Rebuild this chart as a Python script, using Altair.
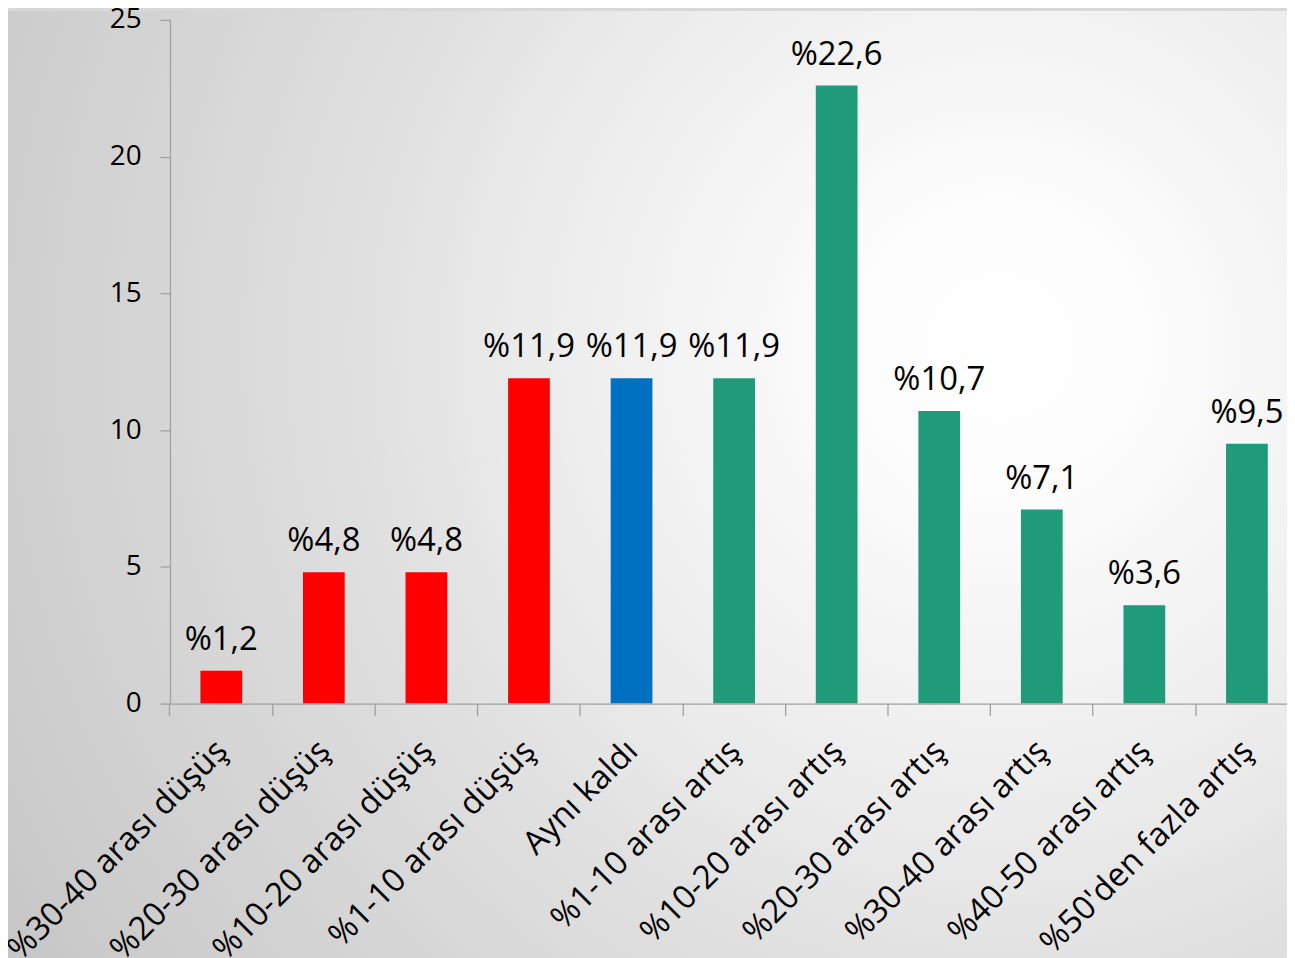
import altair as alt
import pandas as pd

categories = [
    "%30-40 arası düşüş",
    "%20-30 arası düşüş",
    "%10-20 arası düşüş",
    "%1-10 arası düşüş",
    "Aynı kaldı",
    "%1-10 arası artış",
    "%10-20 arası artış",
    "%20-30 arası artış",
    "%30-40 arası artış",
    "%40-50 arası artış",
    "%50'den fazla artış",
]
values = [1.2, 4.8, 4.8, 11.9, 11.9, 11.9, 22.6, 10.7, 7.1, 3.6, 9.5]
groups = ["düşüş", "düşüş", "düşüş", "düşüş", "aynı",
          "artış", "artış", "artış", "artış", "artış", "artış"]
labels = ["%1,2", "%4,8", "%4,8", "%11,9", "%11,9", "%11,9",
          "%22,6", "%10,7", "%7,1", "%3,6", "%9,5"]
y_ticks = [0, 5, 10, 15, 20, 25]

df = pd.DataFrame({"kategori": categories, "deger": values,
                   "grup": groups, "etiket": labels})

W, H = 1124, 688
PAD = {"left": 163, "top": 9, "right": 0, "bottom": 253}

bg_gradient = {
    "gradient": "radial",
    "x1": 0.77, "y1": 0.39, "r1": 0,
    "x2": 0.77, "y2": 0.39, "r2": 1.0,
    "stops": [
        {"offset": 0.0, "color": "#ffffff"},
        {"offset": 0.12, "color": "#fcfcfc"},
        {"offset": 0.37, "color": "#ebebeb"},
        {"offset": 0.5, "color": "#e0e0e0"},
        {"offset": 0.64, "color": "#d7d7d7"},
        {"offset": 0.82, "color": "#cccccc"},
        {"offset": 0.9, "color": "#c6c6c6"},
        {"offset": 1.0, "color": "#c0c0c0"},
    ],
}

bg = alt.Chart(pd.DataFrame({"a": [0]})).mark_rect(
    fill=bg_gradient, strokeWidth=0
).encode(
    x=alt.value(-PAD["left"]), x2=alt.value(W + PAD["right"] + 10),
    y=alt.value(-PAD["top"]), y2=alt.value(H + PAD["bottom"] + 10),
)

x_enc = alt.X(
    "kategori:N", sort=categories, title=None,
    scale=alt.Scale(paddingInner=0.593, paddingOuter=0.242, align=0.613),
    axis=alt.Axis(
        labelAngle=-45, labelAlign="right", labelBaseline="middle",
        labelFont="Open Sans", labelFontSize=33, labelColor="#000000",
        labelPadding=30, labelOffset=1, bandPosition=-0.729,
        tickSize=12, tickColor="#a0a0a0", tickWidth=1.3,
        domainColor="#a0a0a0", domainWidth=1.3, labelLimit=0,
        labelOverlap=False, zindex=1,
    ),
)
y_enc = alt.Y(
    "deger:Q", title=None,
    scale=alt.Scale(domain=[0, 25], nice=False),
    axis=alt.Axis(
        values=y_ticks, grid=False, labelFont="Open Sans", labelFontSize=28,
        labelColor="#000000", labelPadding=19, tickSize=10,
        tickColor="#a0a0a0", tickWidth=1.3, domainColor="#a0a0a0",
        domainWidth=1.3, zindex=1,
    ),
)

bars = alt.Chart(df).mark_bar().encode(
    x=x_enc, y=y_enc,
    color=alt.Color("grup:N", legend=None,
                    scale=alt.Scale(domain=["düşüş", "aynı", "artış"],
                                    range=["#ff0000", "#0070c0", "#1f9b7a"])),
)

text = alt.Chart(df).mark_text(
    baseline="alphabetic", dy=-21, fontSize=33, font="Open Sans", color="#000000"
).encode(
    x=alt.X("kategori:N", sort=categories),
    y="deger:Q",
    text="etiket:N",
)

chart = alt.layer(bg, bars, text).properties(
    width=W, height=H,
    autosize=alt.AutoSizeParams(type="none"),
    padding=PAD,
).configure_view(stroke=None).configure(background="#d8d8d8")

chart.save("out.html", embed_options={"renderer": "svg", "actions": False})
